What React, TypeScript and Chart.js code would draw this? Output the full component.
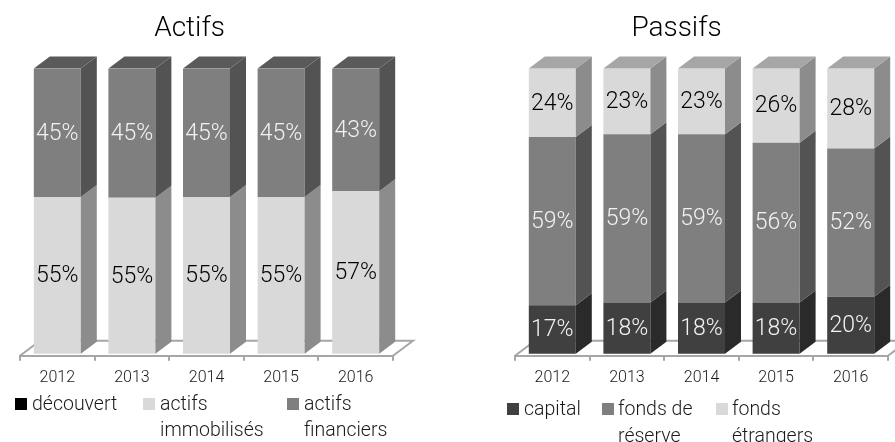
import React, { useEffect, useRef } from "react";
import { Chart, registerables } from "chart.js";

Chart.register(...registerables);

const years = ["2012", "2013", "2014", "2015", "2016"];

const decouvert = [0, 0, 0, 0, 0];
const actifsImmobilises = [55, 54.7, 55, 55, 57];
const actifsFinanciers = [45, 45.3, 45, 45, 43];

const capital = [17, 18, 18, 18, 20];
const fondsReserve = [59, 59, 59, 56, 52];
const fondsEtrangers = [24, 23, 23, 26, 28];

const FONT = 'Roboto, sans-serif';
const FLOOR = "#a6a6a6";
const DX = 16;
const DY = 12;

const BLACK = { front: "#000000", side: "#000000", top: "#000000", text: "#ffffff" };
const DARK = { front: "#404040", side: "#2a2a2a", top: "#333333", text: "#f2f2f2" };
const MID = { front: "#7f7f7f", side: "#535353", top: "#5a5a5a", text: "#f2f2f2" };
const LIGHT = { front: "#d9d9d9", side: "#8c8c8c", top: "#a6a6a6", text: "#000000" };

type Shade = typeof MID;
type Series = { label: string[]; data: number[]; shade: Shade };

const actifsSeries: Series[] = [
  { label: ["découvert"], data: decouvert, shade: BLACK },
  { label: ["actifs", "immobilisés"], data: actifsImmobilises, shade: LIGHT },
  { label: ["actifs", "financiers"], data: actifsFinanciers, shade: MID },
];

const passifsSeries: Series[] = [
  { label: ["capital"], data: capital, shade: DARK },
  { label: ["fonds de", "réserve"], data: fondsReserve, shade: MID },
  { label: ["fonds", "étrangers"], data: fondsEtrangers, shade: LIGHT },
];

function poly(ctx: CanvasRenderingContext2D, pts: number[][], fill: string) {
  ctx.beginPath();
  pts.forEach(([x, y], i) => (i ? ctx.lineTo(x, y) : ctx.moveTo(x, y)));
  ctx.closePath();
  ctx.fillStyle = fill;
  ctx.fill();
}

function makePlugin(series: Series[], titleShift: number) {
  return {
    id: "box3d",
    afterLayout(chart: any) {
      chart.titleBlock.left += titleShift;
      chart.titleBlock.right += titleShift;
    },
    beforeDatasetsDraw(chart: any) {
      const { ctx, chartArea } = chart;
      const { left, right, bottom } = chartArea;
      ctx.save();
      ctx.strokeStyle = FLOOR;
      ctx.lineWidth = 2;
      ctx.beginPath();
      ctx.moveTo(left, bottom);
      ctx.lineTo(left + 20, bottom - 15);
      ctx.lineTo(right + 20, bottom - 15);
      ctx.lineTo(right, bottom);
      ctx.stroke();
      ctx.restore();
    },
    afterDatasetsDraw(chart: any) {
      const { ctx } = chart;
      ctx.save();
      series.forEach((s, di) => {
        chart.getDatasetMeta(di).data.forEach((bar: any, i: number) => {
          if (!s.data[i]) return;
          const r = bar.x + bar.width / 2;
          const l = bar.x - bar.width / 2;
          poly(ctx, [[r, bar.y], [r + DX, bar.y - DY], [r + DX, bar.base - DY], [r, bar.base]], s.shade.side);
          if (di === series.length - 1) {
            poly(ctx, [[l, bar.y], [l + DX, bar.y - DY], [r + DX, bar.y - DY], [r, bar.y]], s.shade.top);
          }
        });
      });
      series.forEach((s, di) => {
        chart.getDatasetMeta(di).data.forEach((bar: any, i: number) => {
          if (!s.data[i]) return;
          ctx.font = `300 23px ${FONT}`;
          ctx.textAlign = "center";
          ctx.textBaseline = "middle";
          ctx.fillStyle = s.shade.text;
          ctx.fillText(`${Math.round(s.data[i])}%`, bar.x, (bar.y + bar.base) / 2 + 1);
        });
      });
      ctx.restore();
    },
  };
}

type PanelProps = {
  title: string;
  series: Series[];
  left: number;
  width: number;
  padLeft: number;
  padRight: number;
  titleShift: number;
};

function Panel({ title, series, left, width, padLeft, padRight, titleShift }: PanelProps) {
  const ref = useRef<HTMLCanvasElement>(null);
  useEffect(() => {
    const chart = new Chart(ref.current!, {
      type: "bar",
      data: {
        labels: years,
        datasets: series.map((s) => ({
          label: s.label.join(" "),
          data: s.data,
          backgroundColor: s.shade.front,
          barPercentage: 1,
          categoryPercentage: 0.63,
          borderWidth: 0,
        })),
      },
      options: {
        responsive: false,
        animation: false,
        layout: { padding: { left: padLeft, right: padRight, top: 0, bottom: 46 } },
        plugins: {
          legend: { display: false },
          tooltip: { enabled: false },
          title: {
            display: true,
            text: title,
            color: "#000000",
            font: { family: FONT, size: 28, weight: "300" },
            padding: { top: 12, bottom: 23 },
          },
        },
        scales: {
          x: {
            stacked: true,
            grid: { display: true, drawOnChartArea: false, drawTicks: true, tickLength: 5, color: FLOOR, lineWidth: 2, offset: true },
            border: { display: true, color: FLOOR, width: 2 },
            ticks: { color: "#1a1a1a", font: { family: FONT, size: 16, weight: "300" }, padding: 8, maxRotation: 0 },
          },
          y: { stacked: true, display: false, min: -0.7, max: 100 },
        },
      },
      plugins: [makePlugin(series, titleShift)],
    } as any);
    return () => chart.destroy();
  }, []);
  return (
    <canvas
      ref={ref}
      width={width}
      height={442}
      style={{ position: "absolute", left, top: 0, width, height: 442 }}
    />
  );
}

type LegendProps = { series: Series[]; swatchX: number[]; textX: number[]; top: number; lineHeight: number };

function Legend({ series, swatchX, textX, top, lineHeight }: LegendProps) {
  return (
    <>
      {series.map((s, i) => (
        <React.Fragment key={i}>
          <div
            style={{
              position: "absolute",
              left: swatchX[i],
              top: top + lineHeight / 2 - 6,
              width: 12,
              height: 12,
              background: s.shade.front,
            }}
          />
          {s.label.map((line, j) => (
            <div
              key={j}
              style={{
                position: "absolute",
                left: textX[i],
                top: top + j * lineHeight,
                lineHeight: `${lineHeight}px`,
                fontFamily: FONT,
                fontWeight: 300,
                fontSize: 19.5,
                color: "#1a1a1a",
                whiteSpace: "nowrap",
              }}
            >
              {line}
            </div>
          ))}
        </React.Fragment>
      ))}
    </>
  );
}

export default function App() {
  return (
    <div style={{ position: "fixed", left: 0, top: 0, width: 895, height: 442, overflow: "hidden", background: "#ffffff" }}>
      <Panel title="Actifs" series={actifsSeries} left={0} width={448} padLeft={20} padRight={55} titleShift={-17} />
      <Panel title="Passifs" series={passifsSeries} left={448} width={447} padLeft={67} padRight={7} titleShift={-25} />
      <Legend series={actifsSeries} swatchX={[15, 143, 287]} textX={[32, 160, 304]} top={391} lineHeight={26} />
      <Legend series={passifsSeries} swatchX={[507, 602, 716]} textX={[524, 618, 732]} top={395} lineHeight={27} />
    </div>
  );
}
